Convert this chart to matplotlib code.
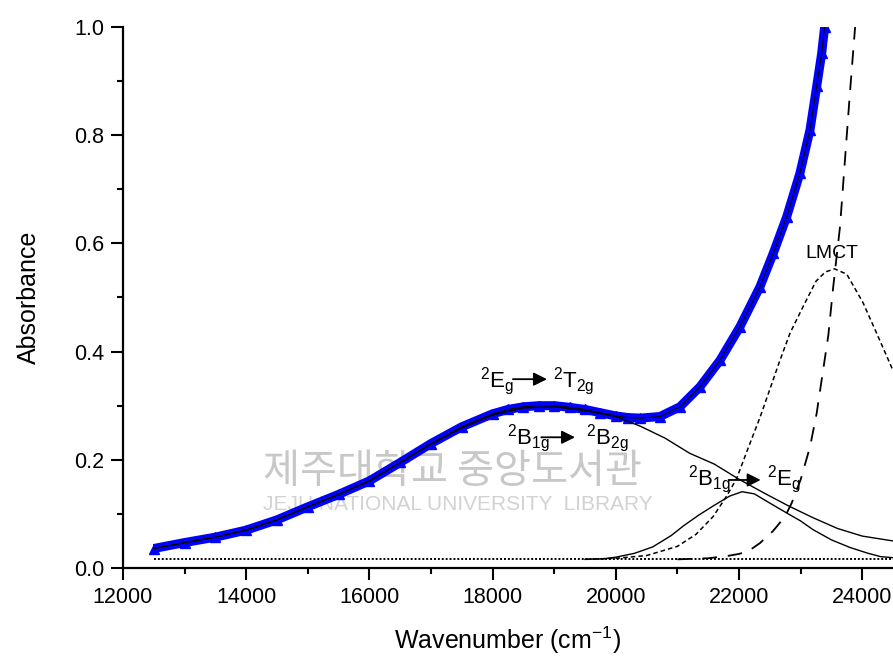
import matplotlib
matplotlib.use("Agg")
import matplotlib.pyplot as plt
from matplotlib.ticker import MultipleLocator, FormatStrFormatter

# measured absorbance (blue triangles) and the fit sum
wn_data = [12500, 13000, 13500, 14000, 14500, 15000, 15500, 16000, 16500,
           17000, 17500, 18000, 18250, 18500, 18750, 19000, 19250, 19500,
           19750, 20000, 20200, 20400, 20718, 21042, 21367, 21692, 22016,
           22341, 22557, 22774, 22990, 23153, 23261, 23342, 23390]
abs_data = [0.036, 0.047, 0.057, 0.070, 0.089, 0.113, 0.136, 0.161, 0.195,
            0.230, 0.261, 0.285, 0.293, 0.298, 0.300, 0.300, 0.297, 0.293,
            0.287, 0.281, 0.278, 0.277, 0.280, 0.298, 0.335, 0.384, 0.446,
            0.520, 0.582, 0.649, 0.730, 0.810, 0.890, 0.951, 1.000]

# broad band 2Eg -> 2T2g
wn_broad = [12500, 13000, 13500, 14000, 14500, 15000, 15500, 16000, 16500,
            17000, 17500, 18000, 18500, 19000, 19500, 20000, 20400, 20800,
            21200, 21600, 22000, 22400, 22800, 23200, 23600, 24000, 24500]
abs_broad = [0.036, 0.047, 0.057, 0.070, 0.089, 0.113, 0.136, 0.161, 0.195,
             0.229, 0.259, 0.283, 0.296, 0.298, 0.291, 0.280, 0.262, 0.240,
             0.212, 0.192, 0.164, 0.139, 0.115, 0.093, 0.073, 0.059, 0.050]

# 2B1g -> 2Eg band
wn_eg = [19500, 19800, 20000, 20300, 20600, 20900, 21100, 21350, 21600,
         21850, 22050, 22250, 22500, 22800, 23000, 23200, 23500, 23800,
         24100, 24300, 24500]
abs_eg = [0.016, 0.017, 0.020, 0.027, 0.039, 0.060, 0.078, 0.098, 0.116,
          0.133, 0.141, 0.137, 0.120, 0.100, 0.087, 0.071, 0.052, 0.038,
          0.027, 0.021, 0.019]

# LMCT band
wn_lmct = [19500, 20000, 20500, 21000, 21300, 21580, 21800, 21960, 22150,
           22340, 22500, 22665, 22828, 23040, 23250, 23400, 23550, 23750,
           24015, 24250, 24500]
abs_lmct = [0.016, 0.018, 0.023, 0.040, 0.062, 0.095, 0.133, 0.165, 0.222,
            0.278, 0.330, 0.384, 0.434, 0.483, 0.530, 0.547, 0.553, 0.543,
            0.490, 0.430, 0.365]

# steep high-energy band
wn_uv = [21000, 21500, 21800, 22000, 22150, 22340, 22550, 22747, 22855,
         23000, 23153, 23261, 23341, 23450, 23530, 23640, 23720, 23800,
         23885, 23950]
abs_uv = [0.016, 0.018, 0.022, 0.026, 0.031, 0.046, 0.068, 0.095, 0.120,
          0.163, 0.224, 0.286, 0.347, 0.430, 0.520, 0.631, 0.754, 0.877,
          1.000, 1.080]

wn_base = [12500, 24500]
abs_base = [0.016, 0.016]

plt.rcParams["font.family"] = "Liberation Sans"
plt.rcParams["mathtext.fontset"] = "custom"
plt.rcParams["mathtext.rm"] = "Liberation Sans"
plt.rcParams["mathtext.it"] = "Liberation Sans"
plt.rcParams["mathtext.bf"] = "Liberation Sans"

fig = plt.figure(figsize=(8.93, 6.61), dpi=100)
ax = fig.add_axes([0.1377, 0.1407, 0.8623, 0.8185])

# library watermark
ax.text(0.182, 0.178, "제주대학교 중앙도서관", transform=ax.transAxes,
        family=["Noto Sans CJK KR", "DejaVu Sans"], fontsize=29,
        color="#c8c8c8", ha="left", va="center", zorder=0)
ax.text(0.182, 0.1165, "JEJU NATIONAL UNIVERSITY  LIBRARY", transform=ax.transAxes,
        fontsize=15, color="#d2d2d2", ha="left", va="center", zorder=0)

ax.plot(wn_data, abs_data, color="blue", lw=6.5, solid_capstyle="butt",
        solid_joinstyle="round", zorder=2)
ax.plot(wn_data, abs_data, "^", color="blue", ms=7, zorder=2)
ax.plot(wn_base, abs_base, color="black", lw=1.4, ls=(0, (1, 1)), zorder=3)
ax.plot(wn_data, abs_data, color="black", lw=0.8, zorder=3)
ax.plot(wn_broad, abs_broad, color="black", lw=1.0, zorder=3)
ax.plot(wn_eg, abs_eg, color="black", lw=1.0, zorder=3)
ax.plot(wn_lmct, abs_lmct, color="black", lw=1.1, ls=(0, (3, 2)), zorder=3)
ax.plot(wn_uv, abs_uv, color="black", lw=1.3, ls=(0, (8, 6)), zorder=3)

# band labels
lab_fs = 16
arrow = dict(arrowstyle="-|>", color="black", lw=1.3, mutation_scale=20,
             shrinkA=0, shrinkB=0)
ax.text(17800, 0.335, r"$^{2}$E$_{g}$", fontsize=lab_fs, ha="left", va="baseline")
ax.annotate("", xy=(18883, 0.349), xytext=(18330, 0.349), arrowprops=arrow)
ax.text(18981, 0.335, r"$^{2}$T$_{2g}$", fontsize=lab_fs, ha="left", va="baseline")

ax.text(18230, 0.229, r"$^{2}$B$_{1g}$", fontsize=lab_fs, ha="left", va="baseline")
ax.annotate("", xy=(19338, 0.2416), xytext=(18790, 0.2416), arrowprops=arrow)
ax.text(19511, 0.229, r"$^{2}$B$_{2g}$", fontsize=lab_fs, ha="left", va="baseline")

ax.text(21170, 0.1534, r"$^{2}$B$_{1g}$", fontsize=lab_fs, ha="left", va="baseline")
ax.annotate("", xy=(22352, 0.1627), xytext=(21830, 0.1627), arrowprops=arrow)
ax.text(22459, 0.1534, r"$^{2}$E$_{g}$", fontsize=lab_fs, ha="left", va="baseline")

ax.text(23505, 0.582, "LMCT", fontsize=14, ha="center", va="center")

ax.set_xlim(12000, 24500)
ax.set_ylim(0, 1.0)
ax.xaxis.set_major_locator(MultipleLocator(2000))
ax.xaxis.set_minor_locator(MultipleLocator(1000))
ax.yaxis.set_major_locator(MultipleLocator(0.2))
ax.yaxis.set_minor_locator(MultipleLocator(0.1))
ax.yaxis.set_major_formatter(FormatStrFormatter("%.1f"))

for side in ("top", "right"):
    ax.spines[side].set_visible(False)
for side in ("left", "bottom"):
    ax.spines[side].set_linewidth(1.6)
ax.tick_params(which="major", direction="out", length=8.5, width=1.5,
               labelsize=15.5, pad=5)
ax.tick_params(which="minor", direction="out", length=4.5, width=1.5)

ax.set_xlabel(r"Wavenumber (cm$^{-1}$)", fontsize=18, labelpad=12)
ax.set_ylabel("Absorbance", fontsize=18, labelpad=24)

fig.savefig("out.png", dpi=100)
